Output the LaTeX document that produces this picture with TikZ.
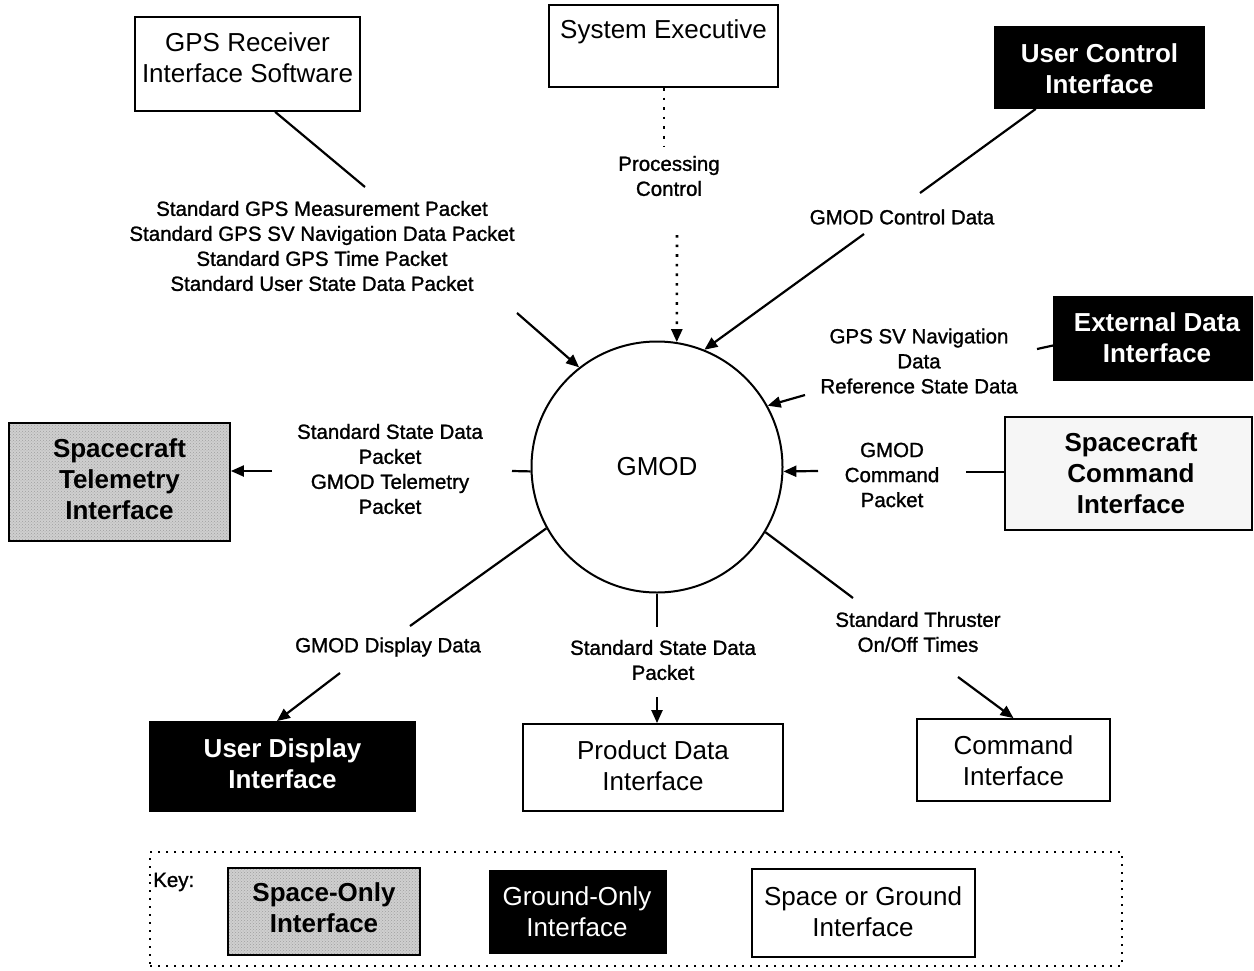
\documentclass[tikz,border=0pt]{standalone}
\usepackage{fontspec}
\setmainfont{Liberation Sans}
\newfontfamily\heavyfont[FakeBold=1.2]{Liberation Sans}
\usetikzlibrary{arrows.meta,calc,patterns}
\begin{document}
\begin{tikzpicture}[x=1pt,y=-1pt,
  frame/.style={draw, line width=1.8pt, rectangle, inner sep=0pt},
  wbox/.style={frame, fill=white},
  bbox/.style={frame, fill=black},
  gbox/.style={frame, preaction={fill=gray!38}, pattern=crosshatch dots, pattern color=gray!75},
  lgbox/.style={frame, fill=gray!7},
  btext/.style={font=\fontsize{26}{31}\selectfont, align=center, inner sep=0pt},
  bbtext/.style={btext, font=\fontsize{26}{31}\selectfont\bfseries},
  wtext/.style={bbtext, text=white},
  lbl/.style={font=\heavyfont\fontsize{20.5}{25}\selectfont, align=center, inner sep=0pt},
  conn/.style={line width=2.2pt},
  arr/.style={conn, -{Triangle[length=13pt,width=11pt]}},
  dotconn/.style={line width=2.6pt, dash pattern=on 2.6pt off 7pt},
]
\useasboundingbox (0,0) rectangle (1254,970);

% central process
\node[circle, draw, line width=2pt, minimum size=251pt, inner sep=0pt,
      font=\fontsize{26}{31}\selectfont] (gmod) at (657,467) {GMOD};

% interface boxes
\node[wbox, minimum width=225pt, minimum height=94pt] (gps) at (247.5,64) {};
\node[btext] (gpst) at (247.5,57.5) {GPS Receiver\\Interface Software};

\node[wbox, minimum width=229pt, minimum height=82pt] (sysexe) at (663.5,46) {};
\node[btext] (sysexet) at (663.5,32) {System Executive};

\node[bbox, minimum width=209pt, minimum height=81pt] (userctl) at (1099.5,67.5) {};
\node[wtext] (userctlt) at (1099.5,68.5) {User Control\\Interface};

\node[bbox, minimum width=198pt, minimum height=83pt] (extdata) at (1153,338.5) {};
\node[wtext] (extdatat) at (1157,337.5) {External Data\\Interface};

\node[gbox, minimum width=221pt, minimum height=118pt] (telem) at (119.5,482) {};
\node[bbtext] (telemt) at (119.5,479) {Spacecraft\\Telemetry\\Interface};

\node[lgbox, minimum width=247pt, minimum height=113pt] (scmd) at (1128.5,473.5) {};
\node[bbtext] (scmdt) at (1131,473.5) {Spacecraft\\Command\\Interface};

\node[bbox, minimum width=265pt, minimum height=89pt] (udisp) at (282.5,766.5) {};
\node[wtext] (udispt) at (282.5,763.5) {User Display\\Interface};

\node[wbox, minimum width=260pt, minimum height=87pt] (prod) at (653,767.5) {};
\node[btext] (prodt) at (653,765.5) {Product Data\\Interface};

\node[wbox, minimum width=193pt, minimum height=82pt] (cmdif) at (1013.5,760) {};
\node[btext] (cmdift) at (1013.5,760.5) {Command\\Interface};

% flow labels
\node[lbl] (lgps) at (322,246) {Standard GPS Measurement Packet\\Standard GPS SV Navigation Data Packet\\Standard GPS Time Packet\\Standard User State Data Packet};
\node[lbl] (lproc) at (669,176) {Processing\\Control};
\node[lbl] (lctl) at (902,217) {GMOD Control Data};
\node[lbl] (lext) at (919,361) {GPS SV Navigation\\Data\\Reference State Data};
\node[lbl] (ltel) at (390,469) {Standard State Data\\Packet\\GMOD Telemetry\\Packet};
\node[lbl] (lcmd) at (892,475) {GMOD\\Command\\Packet};
\node[lbl] (ldisp) at (388,647) {GMOD Display Data};
\node[lbl] (lprod) at (663,660) {Standard State Data\\Packet};
\node[lbl] (lthr) at (918,632) {Standard Thruster\\On/Off Times};

% connector break points
\coordinate (g0) at (365,187);
\coordinate (g1) at (517,313);
\coordinate (b0) at (664,147);
\coordinate (b1) at (677,235);
\coordinate (c0) at (920,193);
\coordinate (c1) at (864,234);
\coordinate (e0) at (1037,349);
\coordinate (e1) at (805,395);
\coordinate (s0) at (966,472);
\coordinate (s1) at (818,471);
\coordinate (t0) at (512,471);
\coordinate (t1) at (272,471);
\coordinate (d0) at (410,626);
\coordinate (d1) at (340,673);
\coordinate (p0) at (657,627);
\coordinate (p1) at (657,697);
\coordinate (h0) at (853,598);
\coordinate (h1) at (958,677);

% connectors
\draw[conn] (gps.-60) -- (g0);
\draw[arr] (g1) -- (gmod.128);

\draw[dotconn] (sysexe.south -| b0) -- (b0);
\draw[dotconn, -{Triangle[length=13pt,width=11pt]}] (b1) -- (gmod.81);

\draw[conn] (userctl.213) -- (c0);
\draw[arr] (c1) -- (gmod.68);

\draw[conn] (extdata.184) -- (e0);
\draw[arr] (e1) -- (gmod.29);

\draw[conn] (s0 -| scmd.west) -- (s0);
\draw[arr] (s1) -- (gmod.-2);

\draw[conn] (gmod.182) -- (t0);
\draw[arr] (t1) -- (t1 -| telem.east);

\draw[conn] (gmod.209) -- (d0);
\draw[arr] (d1) -- (udisp.97);

\draw[conn] (gmod.270) -- (p0);
\draw[arr] (p1) -- (prod.north -| p1);

\draw[conn] (gmod.-31) -- (h0);
\draw[arr] (h1) -- (cmdif.north);

% key
\node[draw, line width=2pt, dash pattern=on 2pt off 6pt, rectangle, inner sep=0pt,
      minimum width=972pt, minimum height=114pt] (key) at (636,909) {};
\node[lbl, anchor=west] (keyt) at (153,882) {Key:};

\node[gbox, minimum width=192pt, minimum height=87pt] (kspace) at (324,911.5) {};
\node[bbtext] (kspacet) at (324,907.5) {Space-Only\\Interface};

\node[bbox, minimum width=176pt, minimum height=82pt] (kground) at (578,912) {};
\node[wtext, font=\fontsize{26}{31}\selectfont] (kgroundt) at (577,911.5) {Ground-Only\\Interface};

\node[wbox, minimum width=223pt, minimum height=88pt] (kboth) at (863.5,913) {};
\node[btext] (kbotht) at (863,911.5) {Space or Ground\\Interface};
\end{tikzpicture}
\end{document}
